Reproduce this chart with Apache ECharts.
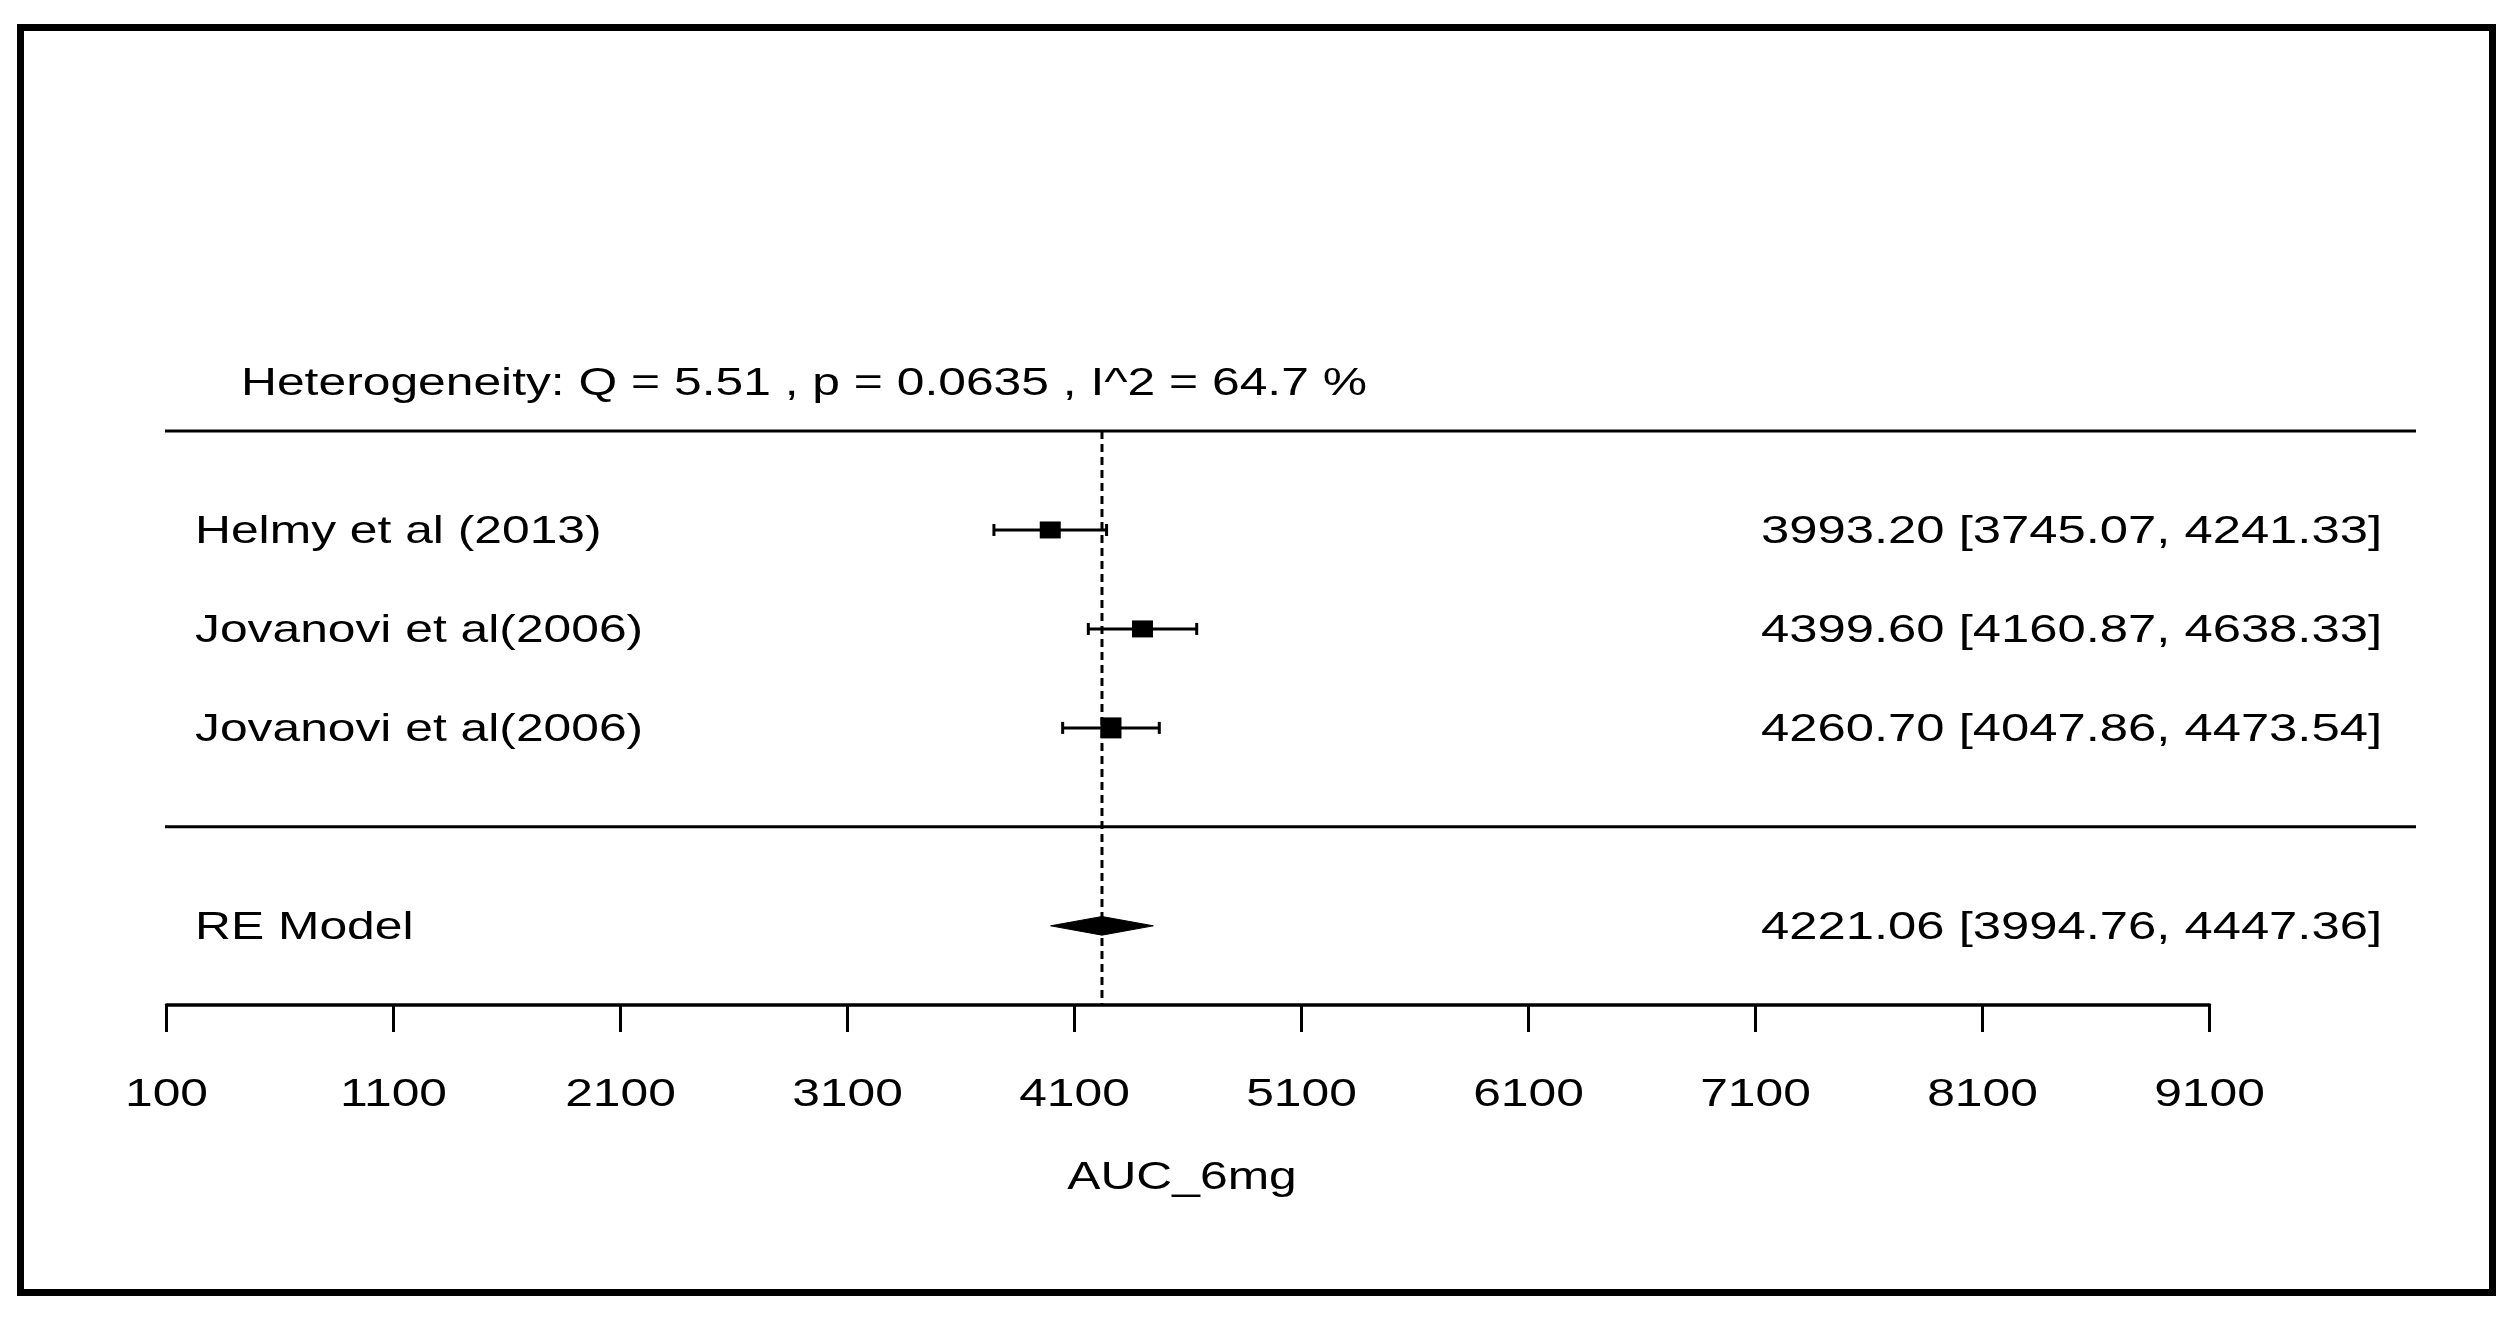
<!DOCTYPE html>
<html>
<head>
<meta charset="utf-8">
<script src="https://cdn.jsdelivr.net/npm/echarts@6/dist/echarts.min.js"></script>
<style>
html,body{margin:0;padding:0;background:#fff;}
#chart{width:2514px;height:1317px;}
</style>
</head>
<body>
<div id="chart"></div>
<script>
// ---------- data ----------
const studyLabels = ['Helmy et al (2013)', 'Jovanovi et al(2006)', 'Jovanovi et al(2006)'];
const studyEst = [3993.20, 4399.60, 4260.70];
const studyLower = [3745.07, 4160.87, 4047.86];
const studyUpper = [4241.33, 4638.33, 4473.54];

const summaryLabel = 'RE Model';
const summaryEst = [4221.06];
const summaryLower = [3994.76];
const summaryUpper = [4447.36];

const heterogeneityText = 'Heterogeneity: Q = 5.51 , p = 0.0635 , I^2 = 64.7 %';
const xTicks = [100, 1100, 2100, 3100, 4100, 5100, 6100, 7100, 8100, 9100];
const xAxisTitle = 'AUC_6mg';

// ---------- styles ----------
const FONT = '"Liberation Sans", Arial, sans-serif';
const FS = 39.5;
const SX = 1.26;
const SX_RIGHT = 1.285;
const TY = 2.5;          // small vertical nudge for text
const SQ_W = 21;
const SQ_H = [17, 17, 21];
const k = studyLabels.length;

function fmt(v) { return v.toFixed(2); }
function txt(x, y, text, align, sx) {
  return {
    type: 'text', x: x, y: y + TY, scaleX: sx || SX,
    style: {
      text: text, fill: '#000', fontSize: FS, fontFamily: FONT,
      align: align, verticalAlign: 'middle',
      textAlign: align, textVerticalAlign: 'middle'
    }
  };
}
function seg(x1, y1, x2, y2, w, dash) {
  const s = { stroke: '#000', lineWidth: w };
  if (dash) s.lineDash = dash;
  return { type: 'line', shape: { x1: x1, y1: y1, x2: x2, y2: y2 }, style: s };
}

const chart = echarts.init(document.getElementById('chart'), null, { renderer: 'canvas' });

const studyData = studyEst.map((e, i) => [e, studyLower[i], studyUpper[i], k - i]);
const summaryData = summaryEst.map((e, i) => [e, summaryLower[i], summaryUpper[i], -1]);

const option = {
  animation: false,
  backgroundColor: '#fff',
  grid: { left: 166.5, right: 304.5, top: 431, bottom: 312, containLabel: false },
  xAxis: {
    type: 'value', min: 100, max: 9100, position: 'bottom',
    axisLine: { show: true, onZero: false, lineStyle: { color: '#000', width: 3.5 } },
    axisTick: { show: true, length: 27, lineStyle: { color: '#000', width: 3 }, customValues: xTicks },
    axisLabel: { show: false },
    splitLine: { show: false }
  },
  yAxis: { type: 'value', min: -1.8, max: 4, show: false, splitLine: { show: false } },
  graphic: [{
    type: 'rect', x: 0, y: 0, silent: true,
    shape: { x: 20.5, y: 27.5, width: 2472, height: 1265 },
    style: { fill: 'none', stroke: '#000', lineWidth: 7 }
  }],
  series: [
    {
      // decorations: separators, reference line, heterogeneity text, tick labels, axis title
      type: 'custom', silent: true, clip: false,
      data: [[summaryEst[0]]],
      renderItem: function (params, api) {
        const cs = params.coordSys;
        const x0 = cs.x - 1.5, x1 = cs.x + cs.width + 206.5;
        const yTop = api.coord([100, k + 1])[1];
        const yMid = api.coord([100, 0])[1];
        const yAxis = cs.y + cs.height;
        const xe = api.coord([api.value(0), 0])[0];
        const yHet = api.coord([100, k + 1.5])[1];
        const children = [
          seg(x0, yTop, x1, yTop, 3),
          seg(x0, yMid, x1, yMid, 3),
          seg(xe, yTop, xe, yAxis, 3, [8, 5]),
          txt(cs.x + 74.5, yHet, heterogeneityText, 'left')
        ];
        xTicks.forEach(function (t) {
          const px = api.coord([t, 0])[0];
          children.push(txt(px, yAxis + 88, String(t), 'center'));
        });
        children.push(txt(cs.x + cs.width / 2 - 6, yAxis + 171, xAxisTitle, 'center'));
        return { type: 'group', children: children };
      }
    },
    {
      type: 'custom', silent: true, clip: false,
      data: studyData,
      renderItem: function (params, api) {
        const cs = params.coordSys;
        const i = params.dataIndex;
        const row = api.value(3);
        const pe = api.coord([api.value(0), row]);
        const pl = api.coord([api.value(1), row]);
        const ph = api.coord([api.value(2), row]);
        const y = pe[1];
        const h = SQ_H[i];
        const right = fmt(studyEst[i]) + ' [' + fmt(studyLower[i]) + ', ' + fmt(studyUpper[i]) + ']';
        return {
          type: 'group', children: [
            seg(pl[0], y, ph[0], y, 3),
            seg(pl[0], y - 6, pl[0], y + 6, 3),
            seg(ph[0], y - 6, ph[0], y + 6, 3),
            { type: 'rect', shape: { x: pe[0] - SQ_W / 2, y: y - h / 2, width: SQ_W, height: h }, style: { fill: '#000' } },
            txt(cs.x + 28.5, y, studyLabels[i], 'left'),
            txt(cs.x + cs.width + 172.5, y, right, 'right', SX_RIGHT)
          ]
        };
      }
    },
    {
      type: 'custom', silent: true, clip: false,
      data: summaryData,
      renderItem: function (params, api) {
        const cs = params.coordSys;
        const i = params.dataIndex;
        const row = api.value(3);
        const pe = api.coord([api.value(0), row]);
        const pl = api.coord([api.value(1), row]);
        const ph = api.coord([api.value(2), row]);
        const y = pe[1];
        const right = fmt(summaryEst[i]) + ' [' + fmt(summaryLower[i]) + ', ' + fmt(summaryUpper[i]) + ']';
        return {
          type: 'group', children: [
            { type: 'polygon', shape: { points: [[pl[0], y], [pe[0], y - 9.3], [ph[0], y], [pe[0], y + 9.3]] }, style: { fill: '#000', stroke: '#000', lineWidth: 1 } },
            txt(cs.x + 28.5, y, summaryLabel, 'left'),
            txt(cs.x + cs.width + 172.5, y, right, 'right', SX_RIGHT)
          ]
        };
      }
    }
  ]
};
chart.setOption(option);
</script>
</body>
</html>
